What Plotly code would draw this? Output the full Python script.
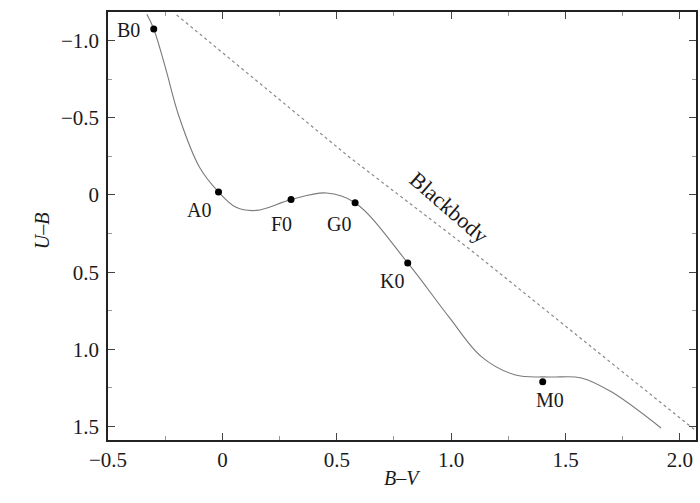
import plotly.graph_objects as go

# Main-sequence two-colour curve
curve_bv = [-0.33, -0.30, -0.25, -0.19, -0.10, -0.017, 0.06, 0.149, 0.30, 0.454,
            0.58, 0.81, 0.99, 1.133, 1.281, 1.425, 1.569, 1.70, 1.917]
curve_ub = [-1.17, -1.075, -0.83, -0.51, -0.18, -0.02, 0.08, 0.10, 0.03, -0.013,
            0.05, 0.44, 0.79, 1.049, 1.166, 1.179, 1.185, 1.275, 1.509]

# Spectral type markers
types = ["B0", "A0", "F0", "G0", "K0", "M0"]
type_bv = [-0.30, -0.017, 0.30, 0.58, 0.81, 1.40]
type_ub = [-1.075, -0.02, 0.03, 0.05, 0.44, 1.21]
# label offsets (data units)
label_dx = [-0.11, -0.085, -0.04, -0.07, -0.07, 0.03]
label_dy = [0.005, 0.12, 0.16, 0.14, 0.12, 0.12]

# Blackbody line
bb_bv = [-0.20, 0.554, 1.085, 2.065]
bb_ub = [-1.166, -0.246, 0.356, 1.522]

serif = "Liberation Serif, Times New Roman, serif"
txt = "#1a1a1a"

fig = go.Figure()
fig.add_trace(go.Scatter(x=bb_bv, y=bb_ub, mode="lines",
                         line=dict(color="#8a8a8a", width=1.2, dash="dot"),
                         hoverinfo="skip"))
fig.add_trace(go.Scatter(x=curve_bv, y=curve_ub, mode="lines",
                         line=dict(color="#7a7a7a", width=1.1, shape="spline", smoothing=1.0),
                         hoverinfo="skip"))
fig.add_trace(go.Scatter(x=type_bv, y=type_ub, mode="markers",
                         marker=dict(color="black", size=7),
                         hoverinfo="skip"))

for t, x, y, dx, dy in zip(types, type_bv, type_ub, label_dx, label_dy):
    fig.add_annotation(x=x + dx, y=y + dy, text=t, showarrow=False,
                       font=dict(family=serif, size=20, color=txt))

fig.add_annotation(x=0.99, y=0.084, text="Blackbody", showarrow=False, textangle=41,
                   font=dict(family=serif, size=22, color=txt))

axis_common = dict(
    showgrid=False, zeroline=False, showline=True, linecolor="#222", linewidth=1.5,
    mirror="allticks", ticks="inside", ticklen=7, tickwidth=1, tickcolor="#444",
    tickfont=dict(family=serif, size=21, color=txt),
    minor=dict(ticks="inside", ticklen=4, tickcolor="#999", dtick=0.25),
)

fig.update_layout(
    width=700, height=503,
    margin=dict(l=108, r=2, t=12, b=63),
    paper_bgcolor="white", plot_bgcolor="white",
    showlegend=False,
    xaxis=dict(range=[-0.5, 2.07], tickvals=[-0.5, 0, 0.5, 1.0, 1.5, 2.0],
               ticktext=["−0.5", "0", "0.5", "1.0", "1.5", "2.0"], **axis_common),
    yaxis=dict(range=[1.587, -1.185], tickvals=[-1.0, -0.5, 0, 0.5, 1.0, 1.5],
               ticktext=["−1.0", "−0.5", "0", "0.5", "1.0", "1.5"],
               ticklabelstandoff=3, **axis_common),
)
fig.add_annotation(x=(404 - 108) / 590, y=-(491 - 440) / 428, xref="paper", yref="paper",
                   text="<i>B–V</i>", showarrow=False,
                   font=dict(family=serif, size=20, color=txt))
fig.add_annotation(x=-(108 - 29) / 590, y=(440 - 231) / 428, xref="paper", yref="paper",
                   text="<i>U–B</i>", showarrow=False, textangle=-90,
                   font=dict(family=serif, size=20, color=txt))

fig.write_html("out.html")
